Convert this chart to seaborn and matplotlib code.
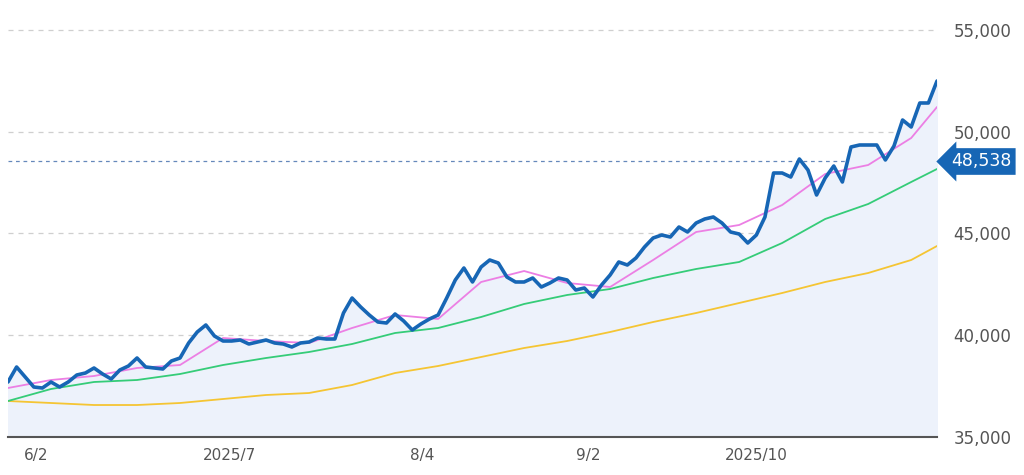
import matplotlib.pyplot as plt
import seaborn as sns
import numpy as np

close = [37703, 38440, 37948, 37457, 37408, 37703, 37457, 37703, 38047, 38145,
         38391, 38096, 37850, 38292, 38489, 38882, 38440, 38391, 38342, 38735,
         38882, 39619, 40160, 40504, 39963, 39717, 39717, 39767, 39570, 39668,
         39767, 39619, 39570, 39423, 39619, 39668, 39865, 39816, 39816, 41093,
         41830, 41388, 40995, 40651, 40602, 41044, 40700, 40258, 40553, 40799,
         40995, 41830, 42715, 43305, 42617, 43354, 43698, 43550, 42862, 42617,
         42617, 42813, 42371, 42568, 42813, 42715, 42224, 42322, 41880, 42469,
         42961, 43600, 43452, 43796, 44337, 44779, 44926, 44828, 45319, 45074,
         45516, 45713, 45811, 45516, 45074, 44975, 44533, 44926, 45811, 47973,
         47973, 47776, 48661, 48120, 46892, 47727, 48317, 47531, 49251, 49349,
         49349, 49349, 48612, 49300, 50577, 50233, 51413, 51413, 52494]

ma_idx = [0, 5, 10, 15, 20, 25, 30, 35, 40, 45, 50, 55, 60, 65, 70, 75, 80, 85, 90, 95, 100, 105, 108]
ma_short = [37408, 37801, 37998, 38391, 38538, 39865, 39717, 39619, 40356, 40995, 40799, 42617,
            43157, 42568, 42371, 43698, 45074, 45418, 46400, 47924, 48366, 49693, 51216]
ma_mid = [36769, 37359, 37703, 37801, 38096, 38538, 38882, 39177, 39570, 40111, 40356, 40897,
          41536, 41978, 42273, 42813, 43256, 43600, 44533, 45713, 46450, 47531, 48170]
ma_long = [36769, 36671, 36572, 36572, 36671, 36867, 37064, 37162, 37555, 38145, 38489, 38931,
           39373, 39717, 40160, 40651, 41093, 41585, 42076, 42617, 43059, 43698, 44386]

ref_price = 48538
tick_pos = [3.3, 25.7, 48.2, 67.5, 87]
tick_labels = ["6/2", "2025/7", "8/4", "9/2", "2025/10"]
y_ticks = [35000, 40000, 45000, 50000, 55000]

sns.set_style("white")
fig = plt.figure(figsize=(10.24, 4.75), dpi=100)
ax = fig.add_axes([8 / 1024, 38 / 475, 929 / 1024, 437 / 475])

x = np.arange(len(close))
ax.fill_between(x, close, 35000, color="#edf2fb", zorder=1)
sns.lineplot(x=ma_idx, y=ma_long, ax=ax, color="#f5c533", linewidth=1.3, zorder=2)
sns.lineplot(x=ma_idx, y=ma_mid, ax=ax, color="#35cc78", linewidth=1.3, zorder=2)
sns.lineplot(x=ma_idx, y=ma_short, ax=ax, color="#ec7fe4", linewidth=1.3, zorder=3)
sns.lineplot(x=x, y=close, ax=ax, color="#1766b5", linewidth=2.6, zorder=4)

ax.set_xlim(0, len(close) - 1)
ax.set_ylim(35000, 56474)
for v in y_ticks[1:]:
    ax.axhline(v, color="#cfcfcf", linestyle=(0, (4, 4)), linewidth=0.9, zorder=0)
ax.axhline(ref_price, color="#6688bb", linestyle=(0, (3, 3)), linewidth=0.9, zorder=0)

ax.yaxis.tick_right()
ax.set_yticks(y_ticks)
ax.set_yticklabels([f"{v:,}" for v in y_ticks], fontsize=12, color="#555555")
ax.tick_params(axis="y", length=0, pad=12)
ax.set_xticks(tick_pos)
ax.set_xticklabels(tick_labels, fontsize=11, color="#555555")
ax.tick_params(axis="x", length=0, pad=8)
for s in ["top", "right", "left"]:
    ax.spines[s].set_visible(False)
ax.spines["bottom"].set_color("#555555")
ax.spines["bottom"].set_linewidth(1.5)

ax.annotate(f"{ref_price:,}", xy=(1.0, ref_price), xycoords=("axes fraction", "data"),
            xytext=(10, 0), textcoords="offset points", va="center", ha="left",
            fontsize=12.5, color="white", annotation_clip=False,
            bbox=dict(boxstyle="larrow,pad=0.25", fc="#1766b5", ec="none"))

fig.savefig("out.png", dpi=100)
